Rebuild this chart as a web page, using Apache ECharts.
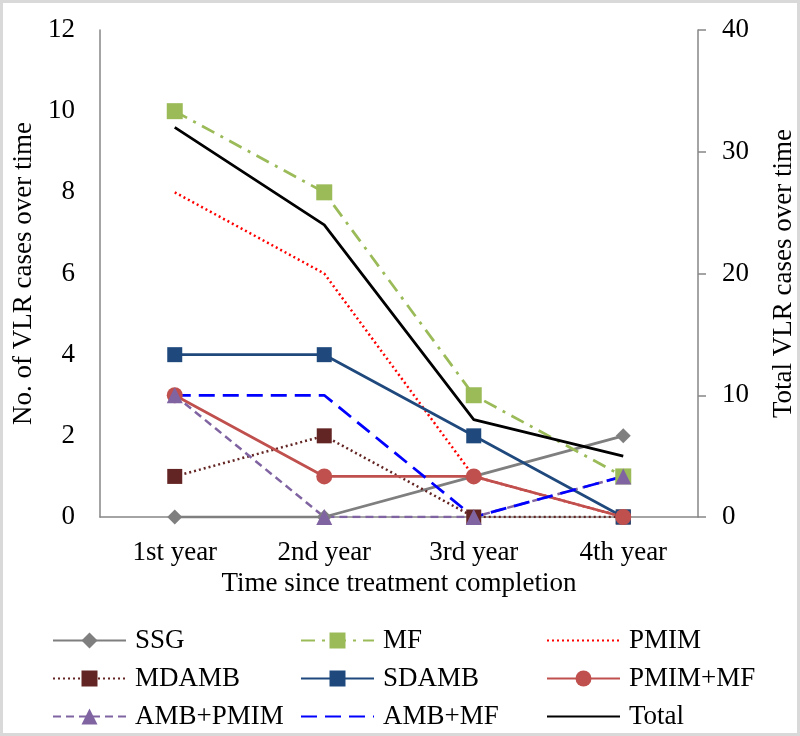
<!DOCTYPE html>
<html><head><meta charset="utf-8">
<script src="https://cdn.jsdelivr.net/npm/echarts@6/dist/echarts.min.js"></script>
<style>html,body{margin:0;padding:0;background:#fff}#c{width:800px;height:736px}</style>
</head><body><div id="c"></div>
<script>
const categories = ['1st year', '2nd year', '3rd year', '4th year'];
const ssg = [0, 0, 1, 2];
const mf = [10, 8, 3, 1];
const pmim = [8, 6, 1, 0];
const mdamb = [1, 2, 0, 0];
const sdamb = [4, 4, 2, 0];
const pmimMf = [3, 1, 1, 0];
const ambPmim = [3, 0, 0, 1];
const ambMf = [3, 3, 0, 1];
const total = [32, 24, 8, 5];

const FF = '"Liberation Serif", "Times New Roman", serif';
const FS = 27;
const axisGray = '#868686';

function s(name, data, color, dash, symbol, size, width, yIdx) {
  return {
    name: name, type: 'line', data: data, yAxisIndex: yIdx || 0,
    symbol: symbol || 'none', symbolSize: size || 14, showSymbol: !!symbol,
    lineStyle: { color: color, width: width || 2, type: dash || 'solid' },
    itemStyle: { color: color, borderWidth: 0 },
    emphasis: { disabled: true }, animation: false
  };
}
function noMark(name) { return { name: name, itemStyle: { opacity: 0 } }; }

const chart = echarts.init(document.getElementById('c'));
const legendBase = {
  orient: 'vertical', top: 622, height: 140, width: 240, itemGap: 11, itemWidth: 73, itemHeight: 20,
  textStyle: { fontSize: FS, fontFamily: FF, color: '#000', padding: [0, 0, 0, 4] },
  selectedMode: false
};
chart.setOption({
  animation: false,
  backgroundColor: '#fff',
  graphic: [{ type: 'rect', shape: { x: 1.5, y: 1.5, width: 797, height: 733 }, style: { fill: 'none', stroke: '#d9d9d9', lineWidth: 3 }, silent: true }],
  grid: { left: 100, right: 102, top: 30, bottom: 219, containLabel: false, outerBoundsMode: 'none' },
  legend: [
    Object.assign({}, legendBase, { left: 47, data: ['SSG', 'MDAMB', 'AMB+PMIM'] }),
    Object.assign({}, legendBase, { left: 295, data: ['MF', 'SDAMB', noMark('AMB+MF')] }),
    Object.assign({}, legendBase, { left: 541, data: [noMark('PMIM'), 'PMIM+MF', noMark('Total')] })
  ],
  xAxis: {
    type: 'category', data: categories, boundaryGap: true,
    name: 'Time since treatment completion', nameLocation: 'middle', nameGap: 52,
    nameTextStyle: { fontSize: FS, fontFamily: FF, color: '#000' },
    axisLine: { lineStyle: { color: axisGray, width: 1.5 } },
    axisTick: { show: false },
    axisLabel: { fontSize: FS, fontFamily: FF, color: '#000', margin: 22 },
    splitLine: { show: false }
  },
  yAxis: [
    {
      type: 'value', min: 0, max: 12, interval: 2, position: 'left',
      name: 'No. of VLR cases over time', nameLocation: 'middle', nameGap: 56, nameRotate: 90,
      nameTextStyle: { fontSize: FS, fontFamily: FF, color: '#000' },
      axisLine: { show: true, lineStyle: { color: axisGray, width: 1.5 } },
      axisTick: { show: false },
      axisLabel: { fontSize: FS, fontFamily: FF, color: '#000', margin: 25 },
      splitLine: { show: false }
    },
    {
      type: 'value', min: 0, max: 40, interval: 10, position: 'right',
      name: 'Total VLR cases over time', nameLocation: 'middle', nameGap: 72, nameRotate: 90,
      nameTextStyle: { fontSize: FS, fontFamily: FF, color: '#000' },
      axisLine: { show: true, lineStyle: { color: axisGray, width: 1.5 } },
      axisTick: { show: true, inside: false, length: 8, lineStyle: { color: axisGray, width: 1.5 } },
      axisLabel: { fontSize: FS, fontFamily: FF, color: '#000', margin: 24 },
      splitLine: { show: false }
    }
  ],
  series: [
    s('SSG', ssg, '#7f7f7f', 'solid', 'diamond', 15, 2.75),
    s('MF', mf, '#9bbb59', [14, 7, 3, 7], 'rect', 16, 2.75),
    s('PMIM', pmim, '#ff0000', [2, 3], null, 0, 2.5),
    s('MDAMB', mdamb, '#632523', [2, 3], 'rect', 15, 2.5),
    s('SDAMB', sdamb, '#1f497d', 'solid', 'rect', 15, 2.75),
    s('PMIM+MF', pmimMf, '#c0504d', 'solid', 'circle', 16, 2.75),
    s('AMB+PMIM', ambPmim, '#8064a2', [8, 5], 'triangle', 16, 2.5),
    s('AMB+MF', ambMf, '#0000ff', [16, 8], null, 0, 2.75),
    s('Total', total, '#000000', 'solid', null, 0, 2.75, 1)
  ]
});
</script></body></html>
